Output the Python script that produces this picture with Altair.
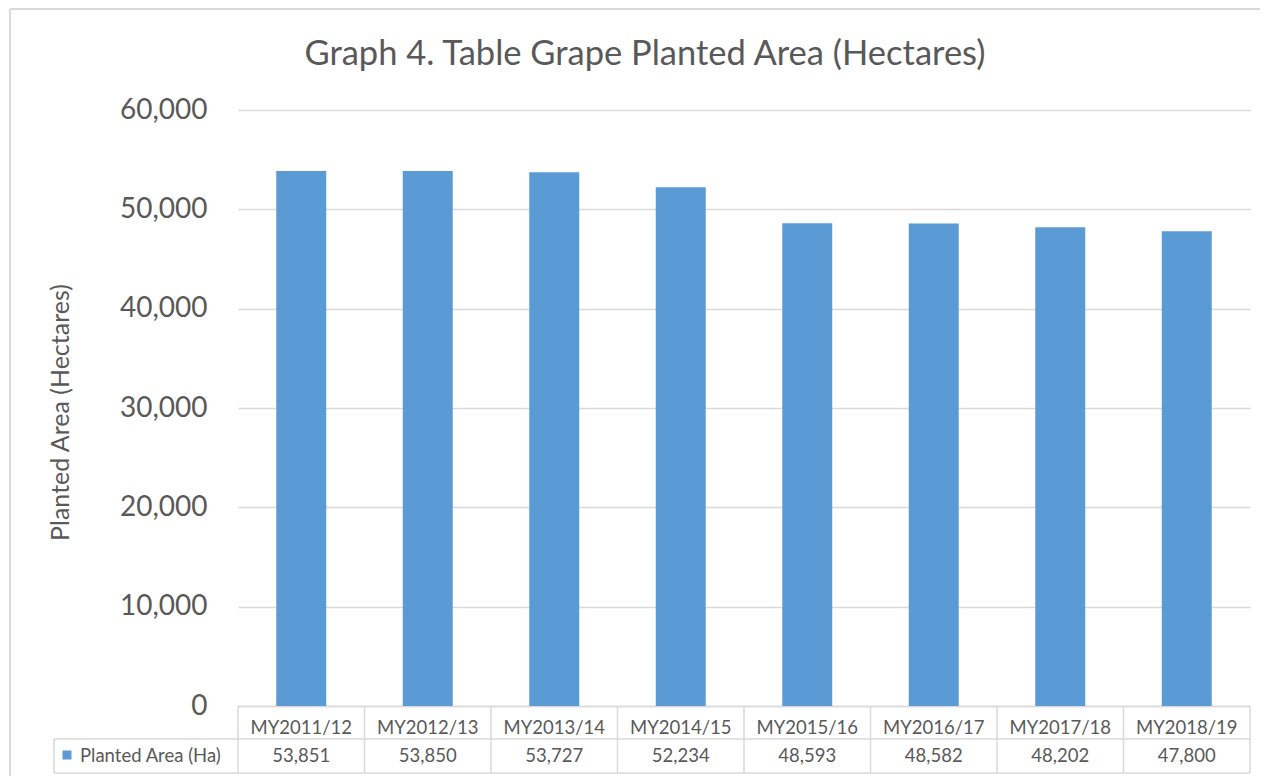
import altair as alt
import pandas as pd

categories = ["MY2011/12", "MY2012/13", "MY2013/14", "MY2014/15",
              "MY2015/16", "MY2016/17", "MY2017/18", "MY2018/19"]
planted_area = [53851, 53850, 53727, 52234, 48593, 48582, 48202, 47800]
series_name = "Planted Area (Ha)"
title_text = "Graph 4. Table Grape Planted Area (Hectares)"
y_title = "Planted Area  (Hectares)"
y_ticks = [0, 10000, 20000, 30000, 40000, 50000, 60000]

df = pd.DataFrame({"cat": categories, "val": planted_area})

FONT = "Lato"
TXT = "#595959"
GRID = "#D9D9D9"
BAR = "#5B9BD5"
W, H = 1012, 596
R1, R2 = 629, 663  # table row boundaries (relative to plot top)
LEFT = -184

xscale = alt.Scale(domain=categories, paddingInner=0, paddingOuter=0)
yscale = alt.Scale(domain=[0, 60000], nice=False)

bars = alt.Chart(df).mark_bar(size=50, color=BAR).encode(
    x=alt.X("cat:N", sort=categories, scale=xscale,
            axis=alt.Axis(title=None, labelAngle=0, ticks=False, domain=True,
                          domainColor=GRID, domainWidth=1.5,
                          labelFontSize=18.5, labelColor=TXT, labelFont=FONT,
                          labelBaseline="middle", labelPadding=21, grid=False)),
    y=alt.Y("val:Q", scale=yscale,
            axis=alt.Axis(values=y_ticks, format=",.0f", title=y_title,
                          titleFont=FONT, titleFontSize=25, titleFontWeight="normal",
                          titleColor=TXT, titleX=-178, titleY=H / 2 + 4,
                          titleAngle=-90, titleAlign="center", titleBaseline="middle",
                          labelFont=FONT, labelFontSize=28, labelColor=TXT,
                          labelPadding=31, ticks=False, domain=False,
                          grid=True, gridColor=GRID, gridWidth=1.5)),
)

# vertical table lines at band edges
vlines = alt.Chart(df).mark_rule(color=GRID, strokeWidth=1.5).encode(
    x=alt.X("cat:N", sort=categories, scale=xscale, bandPosition=0),
    y=alt.value(H), y2=alt.value(R2),
)

one = pd.DataFrame({"k": [0]})


def rule(x, x2, y, y2, color=GRID, sw=1.5):
    return alt.Chart(one).mark_rule(color=color, strokeWidth=sw).encode(
        x=alt.value(x), x2=alt.value(x2), y=alt.value(y), y2=alt.value(y2))


lines = [
    rule(W, W, H, R2),            # right table edge
    rule(LEFT, LEFT, R1, R2),     # left edge of legend cell
    rule(LEFT, W, R1, R1),        # row separator
    rule(LEFT, W, R2, R2),        # table bottom
    rule(-228, 1100, -101, -101, "#D9D9D9", 2),  # outer border top
    rule(-228, -228, -101, 700, "#D9D9D9", 2),   # outer border left
]

values_text = alt.Chart(df).mark_text(font=FONT, fontSize=18.5, color=TXT,
                                      baseline="middle").encode(
    x=alt.X("cat:N", sort=categories, scale=xscale),
    y=alt.value((R1 + R2) / 2),
    text=alt.Text("val:Q", format=","),
)

leg_df = pd.DataFrame({"name": [series_name]})
leg_sq = alt.Chart(leg_df).mark_square(size=81, color=BAR, opacity=1).encode(
    x=alt.value(-171), y=alt.value((R1 + R2) / 2 - 1),
)
leg_txt = alt.Chart(leg_df).mark_text(font=FONT, fontSize=18.5, color=TXT,
                                      align="left", baseline="middle").encode(
    x=alt.value(-158), y=alt.value((R1 + R2) / 2), text="name:N",
)

title_df = pd.DataFrame({"t": [title_text]})
title = alt.Chart(title_df).mark_text(font=FONT, fontSize=34.5, color=TXT,
                                      align="center", baseline="alphabetic").encode(
    x=alt.value(407), y=alt.value(-45), text="t:N",
)

chart = alt.layer(*lines, bars, vlines, values_text, leg_sq, leg_txt, title).properties(
    width=W, height=H,
    padding={"left": 230, "top": 102, "right": 10, "bottom": 70},
    autosize=alt.AutoSizeParams(type="none"),
).configure(background="white", view=alt.ViewConfig(stroke=None))

chart.save("out.html", embed_options={"renderer": "svg", "actions": False})
